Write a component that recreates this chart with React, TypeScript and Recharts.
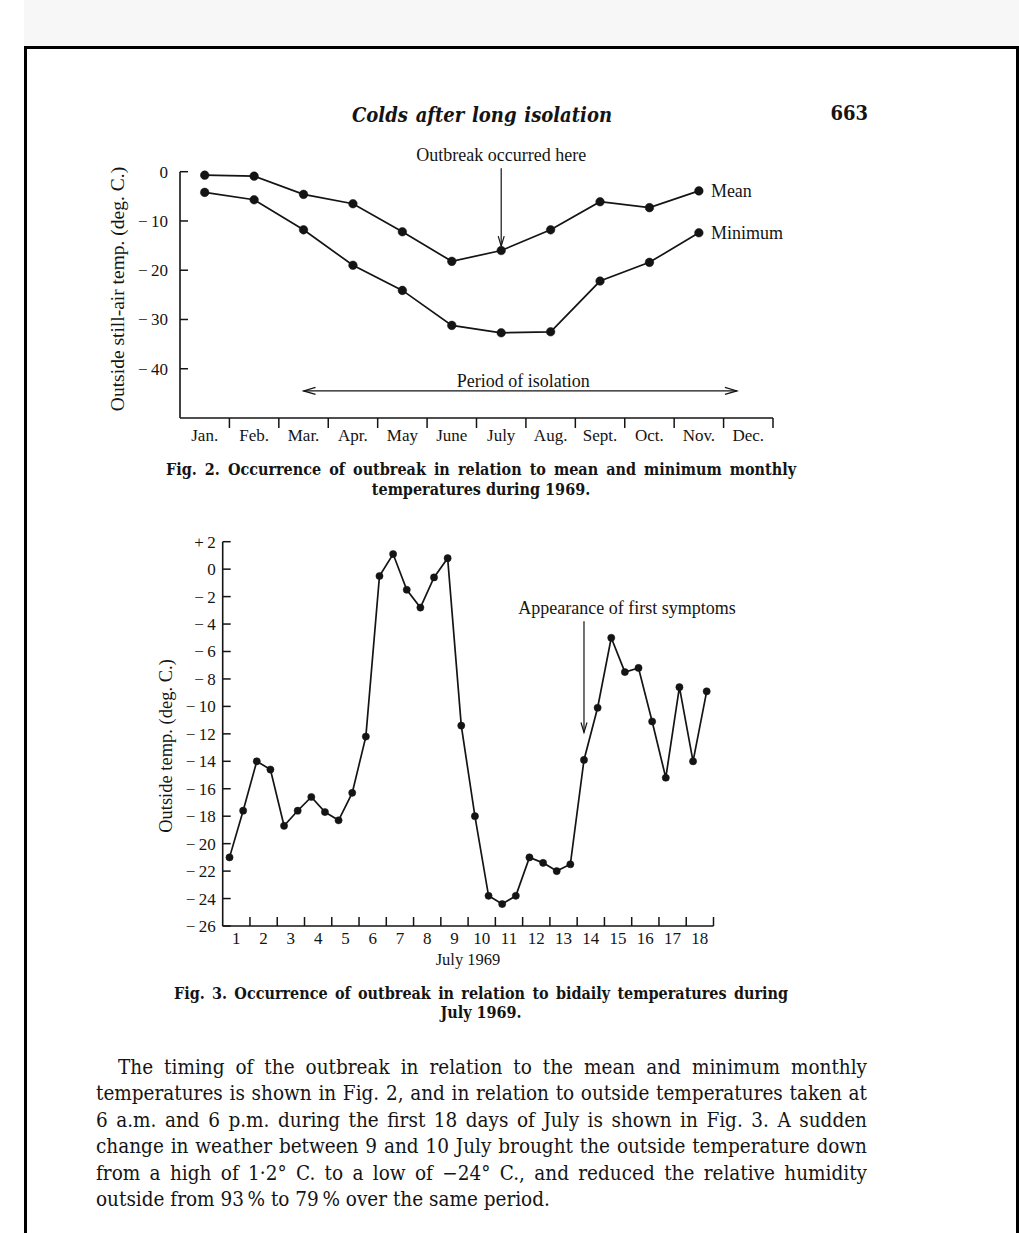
import React from 'react'
import { LineChart, Line, XAxis, YAxis, ReferenceLine, LabelList } from 'recharts'

// Fig. 2 – monthly temperatures, 1969
const months = ['Jan.', 'Feb.', 'Mar.', 'Apr.', 'May', 'June', 'July', 'Aug.', 'Sept.', 'Oct.', 'Nov.', 'Dec.']
const meanTemp = [-0.7, -0.9, -4.6, -6.5, -12.2, -18.2, -16.0, -11.8, -6.1, -7.3, -3.9]
const minTemp = [-4.2, -5.7, -11.8, -19.0, -24.1, -31.2, -32.7, -32.5, -22.2, -18.4, -12.4]
const fig2YTicks = [0, -10, -20, -30, -40]
const fig2XTicks = [1, 2, 3, 4, 5, 6, 7, 8, 9, 10, 11, 12]

// Fig. 3 – bidaily (6 a.m. / 6 p.m.) temperatures, 1–18 July 1969
const julyDays = [1, 2, 3, 4, 5, 6, 7, 8, 9, 10, 11, 12, 13, 14, 15, 16, 17, 18]
const amTemp = [-21.0, -14.0, -18.7, -16.6, -18.3, -12.2, 1.1, -2.8, 0.8, -18.0, -24.4, -21.0, -22.0, -13.9, -5.0, -7.2, -15.2, -14.0]
const pmTemp = [-17.6, -14.6, -17.6, -17.7, -16.3, -0.5, -1.5, -0.6, -11.4, -23.8, -23.8, -21.4, -21.5, -10.1, -7.5, -11.1, -8.6, -8.9]
const fig3YTicks = [2, 0, -2, -4, -6, -8, -10, -12, -14, -16, -18, -20, -22, -24, -26]

const bodyLines = [
  'The timing of the outbreak in relation to the mean and minimum monthly',
  'temperatures is shown in Fig. 2, and in relation to outside temperatures taken at',
  '6 a.m. and 6 p.m. during the first 18 days of July is shown in Fig. 3. A sudden',
  'change in weather between 9 and 10 July brought the outside temperature down',
  'from a high of 1\u00b72\u00b0 C. to a low of \u221224\u00b0 C., and reduced the relative humidity',
  'outside from 93\u2009% to 79\u2009% over the same period.',
]

const fig2Data = months.slice(0, meanTemp.length).map((m, i) => ({ month: m, pos: i + 0.5, mean: meanTemp[i], min: minTemp[i] }))
const fig3Data = julyDays.flatMap((d, i) => [
  { t: d - 1 + 0.25, temp: amTemp[i] },
  { t: d - 1 + 0.75, temp: pmTemp[i] },
])

const INK = '#141414'
const CHART_FONT = '"Liberation Serif", "Times New Roman", serif'
const BOOK_FONT = '"DejaVu Serif Condensed", "Liberation Serif", serif'

// axes get 1px of room (recharts skips an axis of size 0), so margins are 1px short
const F2 = { w: 720, h: 320, margin: { top: 31.7, right: 47, bottom: 41, left: 79 } }
const F2_UNIT = (F2.w - F2.margin.left - 1 - F2.margin.right) / 12
const F3 = { w: 600, h: 460, margin: { top: 21.7, right: 26.5, bottom: 53, left: 81.7 } }
const F3_UNIT = (F3.w - F3.margin.left - 1 - F3.margin.right) / 18

const fmtSigned = (v: number) => (v > 0 ? `+\u2009${v}` : v < 0 ? `\u2212\u2009${Math.abs(v)}` : '0')

function MonthTick(props: any) {
  const { x, y, payload } = props
  const v = payload.value
  return (
    <g>
      <line x1={x} y1={y} x2={x} y2={y + 10} stroke={INK} strokeWidth={1.5} />
      <text x={x - F2_UNIT / 2} y={y + 17} dy="0.35em" textAnchor="middle" fill={INK} fontSize={17} fontFamily={CHART_FONT}>
        {months[v - 1]}
      </text>
    </g>
  )
}

function DayTick(props: any) {
  const { x, y, payload } = props
  const v = payload.value
  return (
    <g>
      <line x1={x} y1={y} x2={x} y2={y - 9} stroke={INK} strokeWidth={1.5} />
      <text x={x - F3_UNIT / 2} y={y + 12} dy="0.35em" textAnchor="middle" fill={INK} fontSize={17} fontFamily={CHART_FONT}>
        {v}
      </text>
    </g>
  )
}

function makeYTick(gap: number, len: number) {
  return function YTick(props: any) {
    const { x, y, payload } = props
    return (
      <g>
        <line x1={x} y1={y} x2={x + len} y2={y} stroke={INK} strokeWidth={1.5} />
        <text x={x - gap} y={y} dy="0.35em" textAnchor="end" fill={INK} fontSize={17} fontFamily={CHART_FONT}>
          {fmtSigned(payload.value)}
        </text>
      </g>
    )
  }
}
const Fig2YTick = makeYTick(12, 8)
const Fig3YTick = makeYTick(7, 8)

function endLabel(text: string, lastIndex: number) {
  return function EndLabel(props: any) {
    const { x, y, index } = props
    if (index !== lastIndex) return null
    return (
      <text x={Number(x) + 12} y={Number(y)} dy="0.35em" fill={INK} fontSize={18} fontFamily={CHART_FONT}>
        {text}
      </text>
    )
  }
}

function downArrow(label: string, labelDx: number) {
  return function DownArrow(props: any) {
    const { x1, y1, x2, y2 } = props
    return (
      <g>
        <line x1={x1} y1={y1} x2={x2} y2={y2} stroke={INK} strokeWidth={1.2} />
        <path d={`M${x2 - 3},${y2 - 10} L${x2},${y2} L${x2 + 3},${y2 - 10}`} fill="none" stroke={INK} strokeWidth={1.2} />
        <text x={x1 + labelDx} y={y1 - 7} textAnchor="middle" fill={INK} fontSize={18} fontFamily={CHART_FONT}>
          {label}
        </text>
      </g>
    )
  }
}

function PeriodArrow(props: any) {
  const { x1, y1, x2, y2 } = props
  return (
    <g>
      <line x1={x1} y1={y1} x2={x2} y2={y2} stroke={INK} strokeWidth={1.2} />
      <path d={`M${x1 + 12},${y1 - 3.5} L${x1},${y1} L${x1 + 12},${y1 + 3.5}`} fill="none" stroke={INK} strokeWidth={1.2} />
      <path d={`M${x2 - 12},${y2 - 3.5} L${x2},${y2} L${x2 - 12},${y2 + 3.5}`} fill="none" stroke={INK} strokeWidth={1.2} />
      <text x={(x1 + x2) / 2 + 3} y={y1 - 4} textAnchor="middle" fill={INK} fontSize={18} fontFamily={CHART_FONT}>
        Period of isolation
      </text>
    </g>
  )
}

function Txt({ x, y, w, children, style }: { x: number; y: number; w?: number; children: React.ReactNode; style?: React.CSSProperties }) {
  return (
    <div
      style={{
        position: 'absolute',
        left: x,
        top: y - 12,
        width: w,
        height: 24,
        lineHeight: '24px',
        color: INK,
        whiteSpace: 'nowrap',
        ...style,
      }}
    >
      {children}
    </div>
  )
}

function VLabel({ cx, cy, text, size }: { cx: number; cy: number; text: string; size: number }) {
  return (
    <div
      style={{
        position: 'absolute',
        left: cx,
        top: cy,
        transform: 'translate(-50%, -50%) rotate(-90deg)',
        whiteSpace: 'nowrap',
        fontFamily: CHART_FONT,
        fontSize: size,
        color: INK,
      }}
    >
      {text}
    </div>
  )
}

const justified: React.CSSProperties = { textAlign: 'justify', textAlignLast: 'justify' }

export default function App() {
  return (
    <div style={{ position: 'absolute', left: 0, top: 0, width: 1019, height: 1233, background: '#fff', overflow: 'hidden' }}>
      <div style={{ position: 'absolute', left: 24, top: 0, width: 995, height: 46, background: '#f7f7f7' }} />
      <div
        style={{
          position: 'absolute',
          left: 24,
          top: 46,
          width: 995,
          height: 1200,
          boxSizing: 'border-box',
          borderTop: '3px solid #000',
          borderLeft: '3px solid #000',
          borderRight: '3px solid #000',
        }}
      />

      <Txt x={352} y={115} w={260} style={{ ...justified, fontFamily: BOOK_FONT, fontSize: 20, fontStyle: 'italic', fontWeight: 700 }}>
        Colds after long isolation
      </Txt>
      <Txt x={825} y={113} w={43} style={{ fontFamily: BOOK_FONT, fontSize: 20, fontWeight: 700, textAlign: 'right' }}>
        663
      </Txt>

      <VLabel cx={118} cy={289} text="Outside still-air temp. (deg. C.)" size={19.5} />
      <div style={{ position: 'absolute', left: 100, top: 140 }}>
        <LineChart width={F2.w} height={F2.h} data={fig2Data} margin={F2.margin}>
          <XAxis
            type="number"
            dataKey="pos"
            domain={[0, 12]}
            ticks={fig2XTicks}
            interval={0}
            height={1}
            tickSize={0}
            tickMargin={0}
            tickLine={false}
            axisLine={{ stroke: INK, strokeWidth: 1.6 }}
            tick={<MonthTick />}
          />
          <YAxis
            type="number"
            domain={[-50, 0]}
            ticks={fig2YTicks}
            interval={0}
            width={1}
            tickSize={0}
            tickMargin={0}
            tickLine={false}
            axisLine={{ stroke: INK, strokeWidth: 1.6 }}
            tick={<Fig2YTick />}
          />
          <ReferenceLine segment={[{ x: 6.5, y: 0.7 }, { x: 6.5, y: -15.1 }]} ifOverflow="visible" shape={downArrow('Outbreak occurred here', 0)} />
          <ReferenceLine segment={[{ x: 2.5, y: -44.5 }, { x: 11.27, y: -44.5 }]} ifOverflow="visible" shape={PeriodArrow} />
          <Line dataKey="mean" stroke={INK} strokeWidth={1.7} dot={{ r: 4.3, fill: INK, stroke: INK, strokeWidth: 0.5 }} isAnimationActive={false}>
            <LabelList dataKey="mean" content={endLabel('Mean', fig2Data.length - 1)} />
          </Line>
          <Line dataKey="min" stroke={INK} strokeWidth={1.7} dot={{ r: 4.3, fill: INK, stroke: INK, strokeWidth: 0.5 }} isAnimationActive={false}>
            <LabelList dataKey="min" content={endLabel('Minimum', fig2Data.length - 1)} />
          </Line>
        </LineChart>
      </div>

      <Txt x={166} y={470} w={630} style={{ ...justified, fontFamily: BOOK_FONT, fontSize: 16, fontWeight: 700 }}>
        Fig. 2. Occurrence of outbreak in relation to mean and minimum monthly
      </Txt>
      <Txt x={166} y={490} w={630} style={{ textAlign: 'center', fontFamily: BOOK_FONT, fontSize: 16, fontWeight: 700 }}>
        temperatures during 1969.
      </Txt>

      <VLabel cx={166} cy={746} text="Outside temp. (deg. C.)" size={18.5} />
      <div style={{ position: 'absolute', left: 140, top: 520 }}>
        <LineChart width={F3.w} height={F3.h} data={fig3Data} margin={F3.margin}>
          <XAxis
            type="number"
            dataKey="t"
            domain={[0, 18]}
            ticks={julyDays}
            interval={0}
            height={1}
            tickSize={0}
            tickMargin={0}
            tickLine={false}
            axisLine={{ stroke: INK, strokeWidth: 1.6 }}
            tick={<DayTick />}
          />
          <YAxis
            type="number"
            domain={[-26, 2]}
            ticks={fig3YTicks}
            interval={0}
            width={1}
            tickSize={0}
            tickMargin={0}
            tickLine={false}
            axisLine={{ stroke: INK, strokeWidth: 1.6 }}
            tick={<Fig3YTick />}
          />
          <ReferenceLine segment={[{ x: 13.25, y: -3.8 }, { x: 13.25, y: -11.9 }]} ifOverflow="visible" shape={downArrow('Appearance of first symptoms', 43)} />
          <Line dataKey="temp" stroke={INK} strokeWidth={1.7} dot={{ r: 3.6, fill: INK, stroke: INK, strokeWidth: 0.5 }} isAnimationActive={false} />
        </LineChart>
      </div>
      <Txt x={368} y={960} w={200} style={{ textAlign: 'center', fontFamily: CHART_FONT, fontSize: 16.5 }}>
        July 1969
      </Txt>

      <Txt x={174} y={994} w={614} style={{ ...justified, fontFamily: BOOK_FONT, fontSize: 16, fontWeight: 700 }}>
        Fig. 3. Occurrence of outbreak in relation to bidaily temperatures during
      </Txt>
      <Txt x={174} y={1013} w={614} style={{ textAlign: 'center', fontFamily: BOOK_FONT, fontSize: 16, fontWeight: 700 }}>
        July 1969.
      </Txt>

      {bodyLines.map((line, i) => (
        <Txt
          key={i}
          x={i === 0 ? 118 : 96}
          y={1067 + i * 26.4}
          w={i === 0 ? 749 : 771}
          style={{ ...(i < bodyLines.length - 1 ? justified : {}), fontFamily: BOOK_FONT, fontSize: 20.5 }}
        >
          {line}
        </Txt>
      ))}
    </div>
  )
}
